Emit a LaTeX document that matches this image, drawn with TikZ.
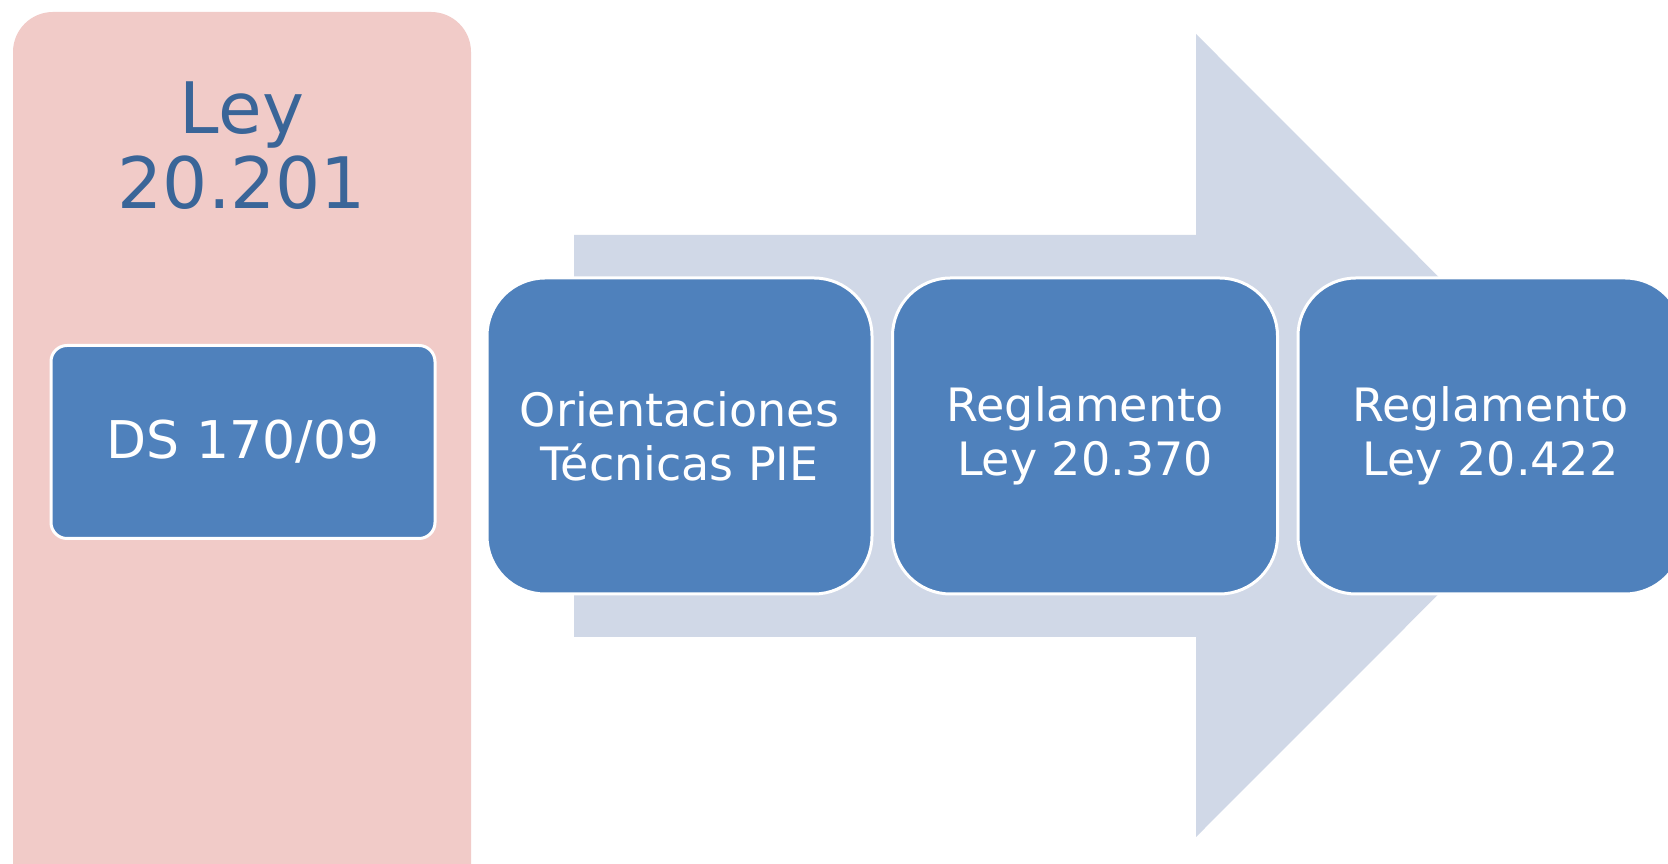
\documentclass[tikz,border=0pt]{standalone}
\usepackage{fontspec}
\setmainfont{DejaVu Sans}
\usepackage{xcolor}

\begin{document}
\begin{tikzpicture}[x=1pt,y=1pt,
  stepbox/.style={draw=white,line width=3pt,fill=boxblue,rounded corners=58pt,
    minimum width=385pt,minimum height=316pt,text=white,align=center,
    font=\fontsize{46}{54}\selectfont},
  subbox/.style={draw=white,line width=3pt,fill=boxblue,rounded corners=16pt,
    minimum width=384pt,minimum height=193pt,text=white,
    font=\fontsize{52}{60}\selectfont}]
\definecolor{pinkbg}{HTML}{F1CBC8}
\definecolor{arrowgray}{HTML}{D0D8E7}
\definecolor{boxblue}{HTML}{4F81BC}
\definecolor{lawblue}{HTML}{3A6598}
\clip (0,0) rectangle (1668,864);
\fill[white] (0,0) rectangle (1668,864);
% left column
\fill[pinkbg,rounded corners=40pt] (13,-60) rectangle (471,852);
\node[text=lawblue,align=center,font=\fontsize{71}{75}\selectfont] (ley) at (242,718) {Ley\\20.201};
\node[subbox] (ds) at (243,422) {DS 170/09};
% big arrow
\fill[arrowgray] (574,629) -- (1196,629) -- (1196,830) -- (1597,428.5)
  -- (1196,27) -- (1196,227) -- (574,227) -- cycle;
  \foreach \txt/\pos in {{Orientaciones\\Técnicas PIE}/0,{Reglamento\\Ley 20.370}/1,{Reglamento\\Ley 20.422}/2}
  {  \node [stepbox] (reg\pos) at (679.5+405.5*\pos,428) {\txt};}
\end{tikzpicture}
\end{document}
